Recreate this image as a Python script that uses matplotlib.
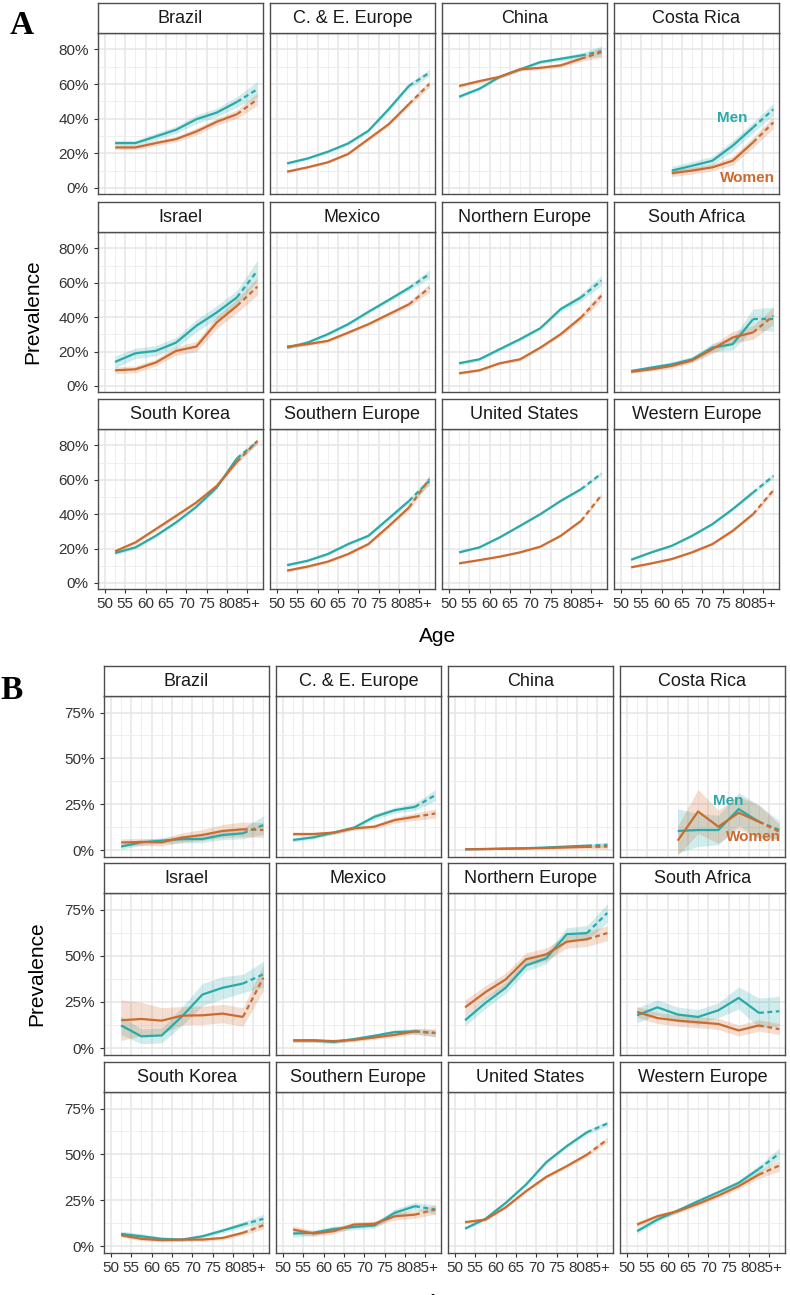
import numpy as np
import matplotlib
matplotlib.use('Agg')
import matplotlib.pyplot as plt

plt.rcParams['font.family'] = ['Liberation Sans', 'DejaVu Sans']

nan = np.nan

# facets, same order in both blocks
regions = ['Brazil', 'C. & E. Europe', 'China', 'Costa Rica',
           'Israel', 'Mexico', 'Northern Europe', 'South Africa',
           'South Korea', 'Southern Europe', 'United States', 'Western Europe']
age_mid = [52.5, 57.5, 62.5, 67.5, 72.5, 77.5, 82.5, 87.5]
age_ticks = [50, 55, 60, 65, 70, 75, 80, 85]
age_labels = ['50', '55', '60', '65', '70', '75', '80', '85+']

# block A, prevalence in %
a_men = [
    [25.9, 25.9, 29.7, 33.6, 39.7, 43.5, 49.7, 57.0],
    [14.2, 17.0, 20.9, 25.7, 33.0, 45.5, 59.0, 66.5],
    [52.7, 57.3, 64.2, 68.5, 72.7, 74.6, 76.5, 79.0],
    [nan, nan, 10.0, 12.8, 15.7, 24.4, 34.9, 45.4],
    [14.0, 19.0, 20.4, 25.2, 35.0, 42.7, 51.5, 67.0],
    [22.3, 25.2, 30.1, 35.9, 43.1, 50.0, 57.0, 65.0],
    [13.2, 15.5, 21.4, 27.2, 33.6, 44.7, 51.5, 61.2],
    [8.7, 10.7, 12.6, 15.5, 22.3, 24.3, 38.8, 38.8],
    [17.4, 20.7, 27.4, 35.2, 44.3, 55.5, 72.5, 82.1],
    [10.4, 12.9, 16.8, 22.6, 27.4, 37.5, 47.7, 59.3],
    [17.8, 20.7, 26.5, 33.2, 40.0, 47.7, 54.5, 63.6],
    [13.5, 17.8, 21.6, 27.4, 34.2, 42.9, 52.6, 62.2],
]
a_women = [
    [23.4, 23.4, 25.9, 28.2, 32.6, 38.2, 42.6, 51.2],
    [9.4, 11.9, 14.8, 19.6, 28.2, 36.8, 48.5, 60.0],
    [58.9, 61.7, 64.2, 68.5, 69.4, 70.8, 74.6, 78.4],
    [nan, nan, 8.6, 10.0, 11.9, 15.7, 26.3, 37.8],
    [9.1, 9.7, 13.6, 20.4, 22.9, 36.9, 46.6, 57.7],
    [22.9, 24.3, 26.2, 31.0, 35.9, 41.7, 47.5, 57.0],
    [7.4, 9.1, 13.2, 15.5, 22.3, 30.1, 39.8, 52.4],
    [8.3, 9.7, 11.7, 14.9, 21.4, 28.2, 31.1, 40.8],
    [18.4, 23.6, 31.3, 39.0, 46.8, 56.4, 70.5, 82.5],
    [7.2, 9.5, 12.4, 16.8, 22.6, 33.0, 43.9, 60.3],
    [11.4, 13.3, 15.3, 17.8, 21.1, 27.4, 36.1, 51.0],
    [9.1, 11.4, 13.9, 17.8, 22.6, 30.3, 40.0, 53.9],
]
# half width of the confidence band, %
a_men_ci = [
    [1.5, 1.5, 2.0, 2.0, 2.5, 2.5, 3.0, 4.5],
    [0.8, 0.8, 0.8, 1.0, 1.0, 1.2, 1.5, 2.0],
    [1.0, 1.0, 1.0, 1.0, 1.0, 1.2, 1.5, 3.0],
    [nan, nan, 2.5, 2.5, 2.5, 3.0, 3.0, 3.5],
    [3.5, 3.0, 3.0, 3.0, 3.5, 4.0, 4.0, 6.0],
    [1.0, 1.0, 1.0, 1.0, 1.0, 1.2, 1.5, 2.5],
    [1.0, 1.0, 1.0, 1.0, 1.0, 1.5, 2.0, 3.0],
    [1.0, 1.0, 1.5, 1.5, 2.5, 3.5, 6.0, 7.0],
    [1.0, 1.0, 1.0, 1.0, 1.0, 1.0, 1.5, 1.5],
    [0.8, 0.8, 0.8, 0.8, 1.0, 1.2, 1.5, 2.5],
    [0.5, 0.5, 0.5, 0.5, 0.5, 0.6, 0.8, 1.0],
    [0.5, 0.5, 0.5, 0.6, 0.7, 0.8, 1.0, 1.5],
]
a_women_ci = [
    [1.2, 1.2, 1.5, 1.5, 2.0, 2.0, 2.5, 3.5],
    [0.6, 0.6, 0.7, 0.8, 1.0, 1.2, 1.5, 2.0],
    [1.0, 1.0, 1.0, 1.0, 1.0, 1.2, 1.5, 3.0],
    [nan, nan, 2.0, 2.0, 2.0, 2.5, 3.0, 3.5],
    [2.0, 2.0, 2.0, 2.5, 3.0, 3.5, 4.0, 5.0],
    [1.0, 1.0, 1.0, 1.0, 1.0, 1.2, 1.5, 2.5],
    [0.8, 0.8, 0.8, 1.0, 1.0, 1.2, 1.8, 2.5],
    [1.0, 1.0, 1.5, 1.5, 2.5, 3.5, 4.0, 5.0],
    [1.0, 1.0, 1.0, 1.0, 1.0, 1.0, 1.5, 1.5],
    [0.8, 0.8, 0.8, 0.8, 1.0, 1.2, 1.5, 2.5],
    [0.5, 0.5, 0.5, 0.5, 0.5, 0.6, 0.8, 1.0],
    [0.5, 0.5, 0.5, 0.6, 0.7, 0.8, 1.0, 1.5],
]

# block B, prevalence in %
b_men = [
    [2.0, 4.3, 5.2, 6.0, 6.1, 8.3, 9.2, 13.7],
    [5.6, 7.0, 9.6, 12.3, 18.2, 21.8, 23.6, 30.0],
    [0.5, 0.7, 0.9, 1.1, 1.5, 2.0, 2.5, 2.9],
    [nan, nan, 10.5, 11.0, 11.0, 22.4, 15.5, 11.0],
    [12.3, 6.4, 6.9, 17.2, 29.0, 32.7, 35.0, 40.0],
    [4.2, 4.2, 3.4, 4.9, 6.7, 8.7, 9.1, 8.2],
    [15.1, 24.5, 32.7, 44.8, 48.7, 61.7, 62.3, 73.2],
    [17.8, 22.1, 18.2, 16.9, 20.5, 27.2, 19.1, 20.0],
    [6.7, 5.4, 4.0, 3.6, 5.4, 8.5, 11.8, 14.9],
    [6.9, 7.3, 9.4, 10.5, 11.3, 18.2, 21.8, 20.0],
    [9.6, 14.9, 23.6, 33.6, 45.8, 54.5, 62.1, 66.8],
    [8.2, 14.5, 19.4, 24.5, 29.4, 34.5, 42.1, 50.5],
]
b_women = [
    [4.2, 4.5, 4.3, 6.9, 8.3, 10.5, 11.4, 11.0],
    [8.8, 8.8, 9.6, 11.9, 12.8, 16.4, 18.2, 20.0],
    [0.5, 0.6, 0.8, 1.0, 1.2, 1.5, 1.8, 2.0],
    [nan, nan, 5.2, 21.1, 12.8, 20.4, 15.5, 10.1],
    [15.1, 15.8, 14.9, 17.6, 17.8, 18.7, 16.9, 38.1],
    [4.2, 4.2, 3.8, 4.5, 5.8, 7.2, 9.1, 8.2],
    [22.1, 30.3, 37.2, 48.1, 50.8, 57.6, 59.0, 62.3],
    [19.6, 16.3, 14.9, 14.0, 13.1, 9.6, 12.3, 10.3],
    [6.0, 4.0, 3.3, 3.6, 3.6, 4.5, 7.3, 11.4],
    [9.1, 6.9, 8.2, 11.8, 12.2, 16.3, 17.2, 20.0],
    [13.1, 14.5, 21.2, 30.0, 37.8, 43.6, 49.9, 58.1],
    [11.8, 16.3, 19.1, 23.1, 27.6, 32.7, 39.0, 43.9],
]
b_men_ci = [
    [1.5, 1.5, 1.5, 2.0, 2.0, 2.5, 3.0, 5.0],
    [1.0, 1.0, 1.0, 1.0, 1.5, 1.5, 2.0, 3.0],
    [0.3, 0.3, 0.3, 0.3, 0.5, 0.5, 0.8, 1.5],
    [nan, nan, 12.0, 9.0, 8.0, 9.0, 9.0, 5.0],
    [5.0, 4.0, 4.0, 5.0, 6.0, 6.0, 5.0, 7.0],
    [1.0, 1.0, 1.0, 1.0, 1.0, 1.2, 1.5, 2.0],
    [3.0, 3.0, 3.0, 3.0, 3.0, 3.5, 4.0, 5.0],
    [4.0, 4.0, 4.0, 4.0, 4.0, 6.0, 8.0, 8.0],
    [1.5, 1.5, 1.0, 1.0, 1.0, 1.2, 1.5, 2.5],
    [2.0, 1.5, 1.5, 1.5, 1.5, 2.0, 2.0, 2.5],
    [0.8, 0.8, 0.8, 0.8, 1.0, 1.0, 1.2, 1.5],
    [1.5, 1.2, 1.2, 1.2, 1.2, 1.5, 2.0, 3.0],
]
b_women_ci = [
    [2.0, 2.0, 2.0, 2.5, 3.0, 3.5, 4.0, 4.0],
    [1.0, 1.0, 1.0, 1.0, 1.2, 1.5, 2.0, 2.5],
    [0.3, 0.3, 0.3, 0.3, 0.5, 0.5, 0.8, 1.5],
    [nan, nan, 8.0, 12.0, 9.0, 9.0, 9.0, 4.0],
    [11.0, 9.0, 7.0, 5.0, 5.0, 5.0, 5.0, 7.0],
    [1.0, 1.0, 1.0, 1.0, 1.0, 1.2, 1.5, 2.0],
    [4.0, 3.5, 3.5, 3.5, 3.5, 3.5, 4.0, 4.0],
    [3.0, 3.0, 3.0, 3.0, 3.0, 3.0, 3.0, 3.0],
    [1.0, 1.0, 1.0, 1.0, 1.0, 1.0, 1.2, 2.0],
    [2.0, 1.5, 1.5, 1.5, 1.5, 2.0, 2.0, 2.5],
    [0.8, 0.8, 0.8, 0.8, 1.0, 1.0, 1.2, 1.5],
    [1.5, 1.2, 1.2, 1.2, 1.2, 1.5, 2.0, 3.0],
]

MEN = '#2AA9A9'
WOMEN = '#CC6B2F'
W, H = 790, 1295

fig = plt.figure(figsize=(W / 100, H / 100), dpi=100)


def box(x, top, w, h):
    return [x / W, 1 - (top + h) / H, w / W, h / H]


def draw_series(ax, y, ci, color):
    x = np.array(age_mid)
    y = np.array(y) / 100
    ci = np.array(ci) / 100
    ax.fill_between(x, y - ci, y + ci, color=color, alpha=0.22, lw=0)
    ax.plot(x[:-1], y[:-1], color=color, lw=1.6, solid_capstyle='butt')
    ax.plot(x[-2:], y[-2:], color=color, lw=1.6, ls=(0, (2.2, 1.6)))


def draw_block(lefts, tops, heights, men, women, men_ci, women_ci,
               ylim, yticks, ylabs, yminor, costa_pos):
    for i, name in enumerate(regions):
        r, c = divmod(i, 4)
        ax = fig.add_axes(box(lefts[c], tops[r], 165, heights[r]))
        ax.set_xlim(48.3, 88.9)
        ax.set_ylim(*ylim)
        ax.set_xticks(age_ticks)
        ax.set_xticks(age_mid, minor=True)
        ax.set_yticks(yticks)
        ax.set_yticks(yminor, minor=True)
        ax.grid(which='major', color='#E6E6E6', lw=1.1)
        ax.grid(which='minor', color='#EDEDED', lw=0.6)
        ax.set_axisbelow(True)
        for s in ax.spines.values():
            s.set_color('#4D4D4D')
            s.set_linewidth(1.0)
        ax.tick_params(which='minor', length=0)
        ax.tick_params(which='major', length=3, color='#333333',
                       labelcolor='#333333', labelsize=11)
        ax.tick_params(axis='y', pad=3.6)
        ax.tick_params(axis='x', pad=2.4)
        if c == 0:
            ax.set_yticklabels(ylabs)
        else:
            ax.tick_params(axis='y', left=False, labelleft=False)
        if r == 2:
            ax.set_xticklabels(age_labels)
        else:
            ax.tick_params(axis='x', bottom=False, labelbottom=False)

        draw_series(ax, men[i], men_ci[i], MEN)
        draw_series(ax, women[i], women_ci[i], WOMEN)

        if name == 'Costa Rica':
            (mx, my), (wx, wy) = costa_pos
            ax.text(mx, my, 'Men', color=MEN, fontsize=11, fontweight='bold',
                    ha='center', va='center')
            ax.text(wx, wy, 'Women', color=WOMEN, fontsize=11,
                    fontweight='bold', ha='center', va='center')

        st = fig.add_axes(box(lefts[c], tops[r] - 30, 165, 30))
        st.set_xticks([])
        st.set_yticks([])
        st.set_facecolor('white')
        for s in st.spines.values():
            s.set_color('#4D4D4D')
            s.set_linewidth(1.0)
        st.text(0.5, 0.47, name, transform=st.transAxes, ha='center',
                va='center', fontsize=13, color='#1A1A1A')


# block A
draw_block([98, 270, 442, 614], [33, 232, 429], [161, 160, 160],
           a_men, a_women, a_men_ci, a_women_ci,
           (-0.035, 0.895), [0, 0.2, 0.4, 0.6, 0.8],
           ['0%', '20%', '40%', '60%', '80%'], [0.1, 0.3, 0.5, 0.7],
           ((77.4, 0.403), (81.1, 0.058)))

# block B
draw_block([104, 276, 448, 620], [696, 893, 1092], [161, 162, 161],
           b_men, b_women, b_men_ci, b_women_ci,
           (-0.037, 0.84), [0, 0.25, 0.5, 0.75],
           ['0%', '25%', '50%', '75%'], [0.125, 0.375, 0.625],
           ((74.9, 0.266), (81.1, 0.071)))

fig.text(438 / W, 1 - 636 / H, 'Age', ha='center', va='center', fontsize=15)
fig.text(33 / W, 1 - 312 / H, 'Prevalence', ha='center', va='center',
         rotation=90, fontsize=15)
fig.text(445 / W, 1 - 1302 / H, 'Age', ha='center', va='center', fontsize=15)
fig.text(37 / W, 1 - 974 / H, 'Prevalence', ha='center', va='center',
         rotation=90, fontsize=15)

fig.text(22 / W, 1 - 26 / H, 'A', ha='center', va='center', fontsize=24,
         fontweight='bold', family='Liberation Serif')
fig.text(12 / W, 1 - 690 / H, 'B', ha='center', va='center', fontsize=24,
         fontweight='bold', family='Liberation Serif')

fig.savefig('out.png', dpi=100)
